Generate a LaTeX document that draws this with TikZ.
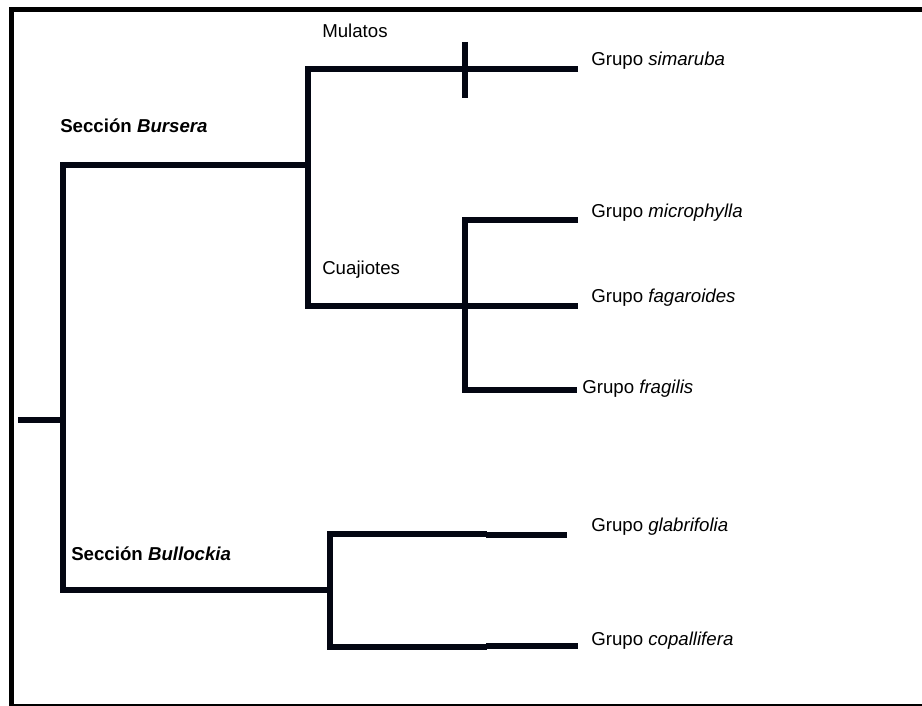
\documentclass[tikz,border=0pt]{standalone}
\usepackage{fontspec}
\setmainfont{Liberation Sans}
\definecolor{linecol}{RGB}{3,6,18}
\begin{document}
\begin{tikzpicture}[x=0.75pt,y=-0.75pt,
  branch/.style={draw=linecol, line width=3.9pt, line join=miter},
  lbl/.style={anchor=base west, inner sep=0pt, font=\fontsize{14}{16}\selectfont},
  framebox/.style={draw=black, line width=4.2pt}]
\useasboundingbox (0,0) rectangle (922,706);
\begin{scope}
\clip (0,0) rectangle (922,706);
\draw[framebox] (11.5,9.5) rectangle (940,707);
\end{scope}
% coordinates
\coordinate (r0) at (18,420);
\coordinate (n0) at (63,420);
\coordinate (n0t) at (63,165);
\coordinate (n0b) at (63,590);
\coordinate (nB) at (308,165);
\coordinate (nBt) at (308,69);
\coordinate (nBb) at (308,306);
\coordinate (simE) at (578,69);
\coordinate (tickT) at (465,42);
\coordinate (tickB) at (465,98);
\coordinate (nC) at (465,306);
\coordinate (nCt) at (465,220);
\coordinate (nCb) at (465,390);
\coordinate (micE) at (578,220);
\coordinate (fagE) at (578,306);
\coordinate (fraE) at (577,390);
\coordinate (nL) at (330,590);
\coordinate (nLt) at (330,534);
\coordinate (nLb) at (330,647);
\coordinate (glaM) at (487,534);
\coordinate (glaM2) at (486,535);
\coordinate (glaE) at (567,535);
\coordinate (copM) at (487,647);
\coordinate (copM2) at (486,646);
\coordinate (copE) at (578,646);
% tree
\draw[branch] (r0) -- (n0);
\draw[branch] (nB) -- (n0t) -- (n0b) -- (nL);
\draw[branch] (simE) -- (nBt) -- (nBb) -- (fagE);
\draw[branch] (tickT) -- (tickB);
\draw[branch] (micE) -- (nCt) -- (nCb) -- (fraE);
\draw[branch] (glaM) -- (nLt) -- (nLb) -- (copM);
\draw[branch] (glaM2) -- (glaE);
\draw[branch] (copM2) -- (copE);
% labels
\node[lbl] (mul) at (322,37.5) {Mulatos};
\node[lbl] (cua) at (322,275) {Cuajiotes};
\node[lbl] (bur) at (60,133) {\bfseries Sección \itshape Bursera};
\node[lbl] (bul) at (71,560) {\bfseries Sección \itshape Bullockia};
\node[lbl] (sim) at (591,65.5) {Grupo \textit{simaruba}};
\node[lbl] (mic) at (591,218) {Grupo \textit{microphylla}};
\node[lbl] (fag) at (591,303) {Grupo \textit{fagaroides}};
\node[lbl] (fra) at (582,393) {Grupo \textit{fragilis}};
\node[lbl] (gla) at (591,531) {Grupo \textit{glabrifolia}};
\node[lbl] (cop) at (591,645) {Grupo \textit{copallifera}};
\end{tikzpicture}
\end{document}
